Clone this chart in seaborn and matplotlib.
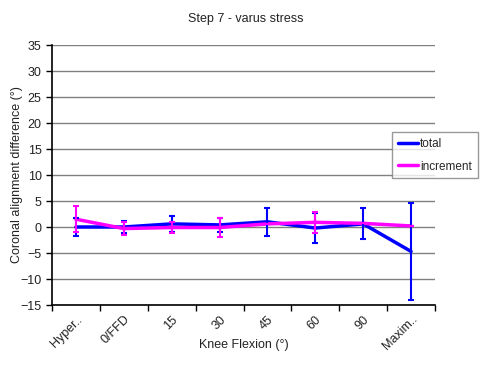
import matplotlib
matplotlib.use("Agg")
import matplotlib.pyplot as plt
import seaborn as sns
import pandas as pd
from matplotlib.lines import Line2D

sns.set_theme(style="white")
plt.rcParams["font.family"] = ["Liberation Sans", "DejaVu Sans"]

categories = ["Hyper..", "0/FFD", "15", "30", "45", "60", "90", "Maxim.."]
total = [0.0, 0.0, 0.6, 0.4, 1.0, -0.2, 0.6, -4.7]
total_err = [1.8, 1.1, 1.6, 1.4, 2.7, 2.9, 3.0, 9.4]
increment = [1.5, -0.3, -0.1, -0.1, 0.6, 0.9, 0.7, 0.2]
increment_err = [2.5, 1.2, 1.0, 1.9, 0.0, 2.0, 0.0, 0.0]

df = pd.DataFrame({
    "cat": categories * 2,
    "pos": list(range(len(categories))) * 2,
    "value": total + increment,
    "err": total_err + increment_err,
    "series": ["total"] * len(categories) + ["increment"] * len(categories),
})
colors = {"total": "#0000ff", "increment": "#ff00ff"}

fig = plt.figure(figsize=(4.92, 3.65), dpi=100)
ax = fig.add_axes([52 / 492, 60 / 365, 383 / 492, 260 / 365])

sns.lineplot(data=df, x="pos", y="value", hue="series", palette=colors,
             linewidth=2.5, ax=ax, legend=False, sort=False)
for name, sub in df.groupby("series", sort=False):
    ax.errorbar(sub["pos"], sub["value"], yerr=sub["err"], fmt="none",
                ecolor=colors[name], elinewidth=1.5, capsize=2.5, capthick=1.5)

ax.set_xlim(-0.5, len(categories) - 0.5)
ax.set_ylim(-15, 35)
ax.set_yticks(range(-15, 36, 5))
ax.set_xticks([i - 0.5 for i in range(len(categories) + 1)], minor=False)
ax.set_xticklabels([])
ax.set_xticks(range(len(categories)), minor=True)
ax.set_xticklabels(categories, minor=True, rotation=45, ha="right",
                   rotation_mode="anchor", fontsize=9, color="#222222")
ax.tick_params(axis="x", which="minor", length=0, pad=6)
ax.tick_params(axis="x", which="major", length=4, width=1, direction="out",
               bottom=True, color="black")
ax.tick_params(axis="y", length=4, width=1, direction="out", left=True,
               labelsize=9, color="black", labelcolor="#222222")
ax.yaxis.grid(True, color="#808080", linewidth=1)
ax.set_axisbelow(True)
for s in ["top", "right"]:
    ax.spines[s].set_visible(False)
for s in ["left", "bottom"]:
    ax.spines[s].set_color("black")
    ax.spines[s].set_linewidth(1.2)

ax.set_xlabel("Knee Flexion (°)", fontsize=9, labelpad=-10, color="#222222")
ax.set_ylabel("Coronal alignment difference (°)", fontsize=9, labelpad=-2,
              color="#222222")
fig.suptitle("Step 7 - varus stress", fontsize=9, y=0.965, color="#222222")

handles = [Line2D([], [], color=colors[k], linewidth=2.5) for k in ["total", "increment"]]
leg = fig.legend(handles, ["total", "increment"], loc="upper left",
                 bbox_to_anchor=(392 / 492, 1 - 132 / 365), fontsize=8.5,
                 frameon=True, fancybox=False, edgecolor="#808080",
                 handlelength=1.7, handletextpad=0.2, borderpad=0.5,
                 labelspacing=0.9, borderaxespad=0)
leg.get_frame().set_linewidth(1)

fig.savefig("out.png", dpi=100)
